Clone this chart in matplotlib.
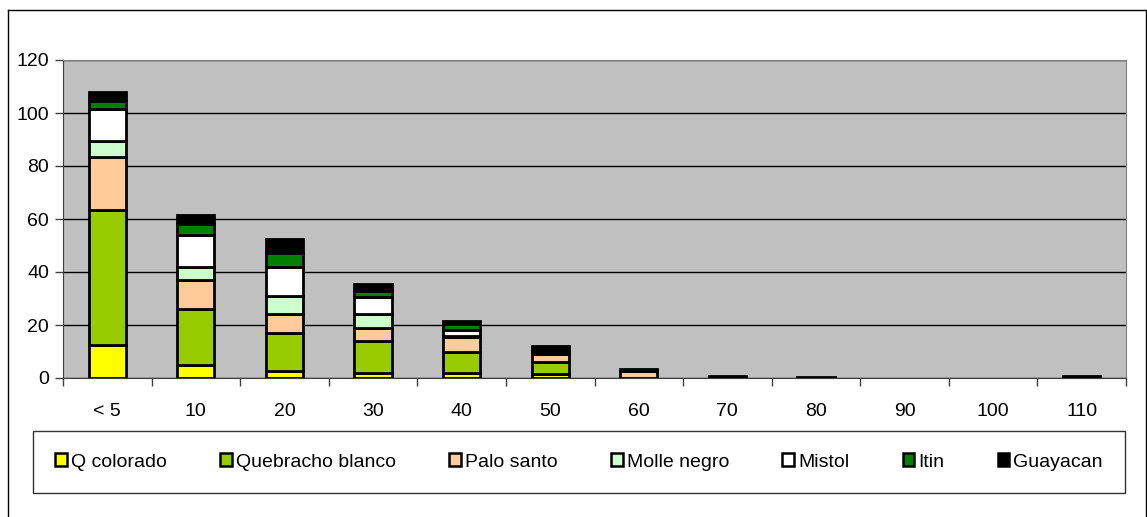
import numpy as np
import matplotlib.pyplot as plt
from matplotlib.lines import Line2D

plt.rcParams['font.family'] = ['Liberation Sans', 'DejaVu Sans']

# diameter classes
clases = ['< 5', '10', '20', '30', '40', '50', '60', '70', '80', '90', '100', '110']

# counts per species and class
q_colorado = [12.5, 5, 2.5, 2, 2, 1.5, 0, 0, 0, 0, 0, 0]
quebracho_blanco = [51, 21, 14.5, 12, 8, 4.5, 0, 0, 0, 0, 0, 0]
palo_santo = [20, 11, 7, 5, 5.5, 3, 2.8, 0, 0, 0, 0, 0]
molle_negro = [6, 5, 7, 5, 0.5, 0.5, 0, 0, 0, 0, 0, 0]
mistol = [12, 12, 11, 6.5, 2, 0.5, 0, 0, 0, 0, 0, 0]
itin = [3, 4, 5, 2.5, 2.5, 0.5, 0, 0, 0, 0, 0, 0]
guayacan = [3.5, 3.5, 5.5, 2.5, 1, 1.7, 0.5, 0.8, 0.5, 0, 0, 0.6]

especies = ['Q colorado', 'Quebracho blanco', 'Palo santo', 'Molle negro',
            'Mistol', 'Itin', 'Guayacan']
series = [q_colorado, quebracho_blanco, palo_santo, molle_negro,
          mistol, itin, guayacan]
colores = ['#FFFF00', '#99CC00', '#FFCC99', '#CCFFCC', '#FFFFFF',
           '#008000', '#000000']

fig = plt.figure(figsize=(11.47, 5.17), dpi=100)
ax = fig.add_axes([63 / 1147, 1 - 378 / 517, (1126 - 63) / 1147, (378 - 60) / 517])
ax.set_facecolor('#C0C0C0')

x = np.arange(len(clases))
base = np.zeros(len(clases))
for nombre, vals, col in zip(especies, series, colores):
    vals = np.array(vals)
    hay = vals > 0
    ax.bar(x[hay], vals[hay], width=0.42, bottom=base[hay], color=col,
           edgecolor='black', linewidth=2, zorder=3, label=nombre)
    base += vals

ax.set_xlim(-0.5, len(clases) - 0.5)
ax.set_ylim(0, 120)
ax.set_yticks(range(0, 121, 20))
ax.yaxis.grid(True, color='black', linewidth=1, zorder=1)

ax.set_xticks(x)
ax.set_xticklabels(clases)
ax.set_xticks(np.arange(-0.5, len(clases), 1), minor=True)
ax.tick_params(axis='x', which='major', length=0, pad=18, labelsize=14)
ax.tick_params(axis='x', which='minor', length=6, width=1, color='#404040')
ax.tick_params(axis='y', length=6, width=1, color='#404040', pad=4, labelsize=14)

for s in ['left', 'bottom']:
    ax.spines[s].set_color('#404040')
for s in ['top', 'right']:
    ax.spines[s].set_color('#808080')

# legend across the bottom
handles = [plt.Rectangle((0, 0), 1, 1, facecolor=c, edgecolor='black', linewidth=1.8)
           for c in colores]
leg = fig.legend(handles, especies, ncol=7, loc='center',
                 bbox_to_anchor=(579 / 1147, 1 - 462 / 517),
                 fontsize=14, frameon=True, fancybox=False, shadow=False,
                 handlelength=0.6, handleheight=0.6, handletextpad=0.2,
                 columnspacing=2.75, borderpad=1.15)
leg.get_frame().set_edgecolor('black')
leg.get_frame().set_linewidth(1)

# outer chart border
fig.add_artist(Line2D([8 / 1147, 8 / 1147], [0, 1 - 10 / 517], color='black',
                      linewidth=1, transform=fig.transFigure))
fig.add_artist(Line2D([8 / 1147, 1146 / 1147], [1 - 10 / 517, 1 - 10 / 517],
                      color='black', linewidth=1, transform=fig.transFigure))
fig.add_artist(Line2D([1146 / 1147, 1146 / 1147], [0, 1 - 10 / 517], color='black',
                      linewidth=1, transform=fig.transFigure))

fig.savefig('out.png', dpi=100)
